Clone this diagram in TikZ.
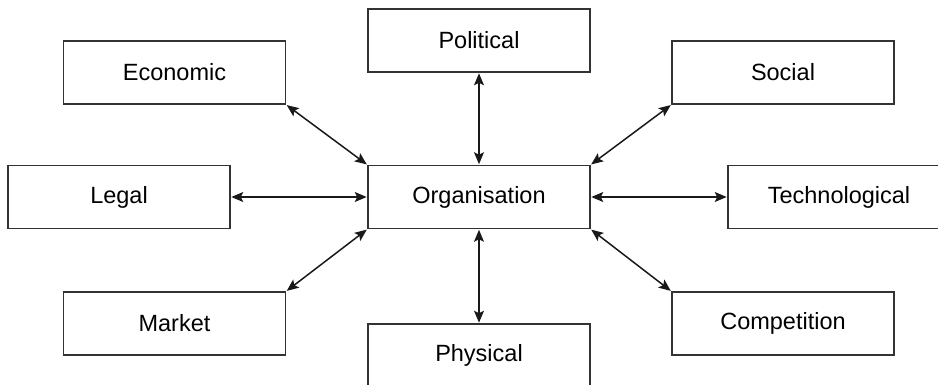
\documentclass[tikz,border=0pt]{standalone}
\usepackage{fontspec}
\setmainfont{Liberation Sans}
\usetikzlibrary{arrows.meta}
\begin{document}
\begin{tikzpicture}[x=1pt,y=-1pt,
  box/.style={draw=black!80,line width=1.6pt,rectangle,minimum width=222pt,minimum height=63pt,inner sep=0pt,font=\fontsize{23.5}{27}\selectfont},
  link/.style={line width=1.5pt,draw=black!90,{Stealth[length=12pt,width=10pt,inset=2.5pt]}-{Stealth[length=12pt,width=10pt,inset=2.5pt]},shorten <=0.5pt,shorten >=0.5pt}]
\useasboundingbox (0,0) rectangle (938,385);
\node[box] (pol) at (479,40.5) {Political};
\node[box] (eco) at (174.5,72.5) {Economic};
\node[box] (soc) at (783,72.5) {Social};
\node[box] (leg) at (119,197) {Legal};
\node[box] (org) at (479,197) {Organisation};
\node[box] (tec) at (839,197) {Technological};
\node[box] (mar) at (174.5,323.5) {Market};
\node[box] (com) at (783,323.5) {Competition};
\node[box] (phy) at (479,355.5) {Physical};
\draw[link] (pol.south) -- (org.north);
\draw[link] (eco.south east) -- (org.north west);
\draw[link] (soc.south west) -- (org.north east);
\draw[link] (leg.east) -- (org.west);
\draw[link] (tec.west) -- (org.east);
\draw[link] (mar.north east) -- (org.south west);
\draw[link] (com.north west) -- (org.south east);
\draw[link] (phy.north) -- (org.south);
\end{tikzpicture}
\end{document}
